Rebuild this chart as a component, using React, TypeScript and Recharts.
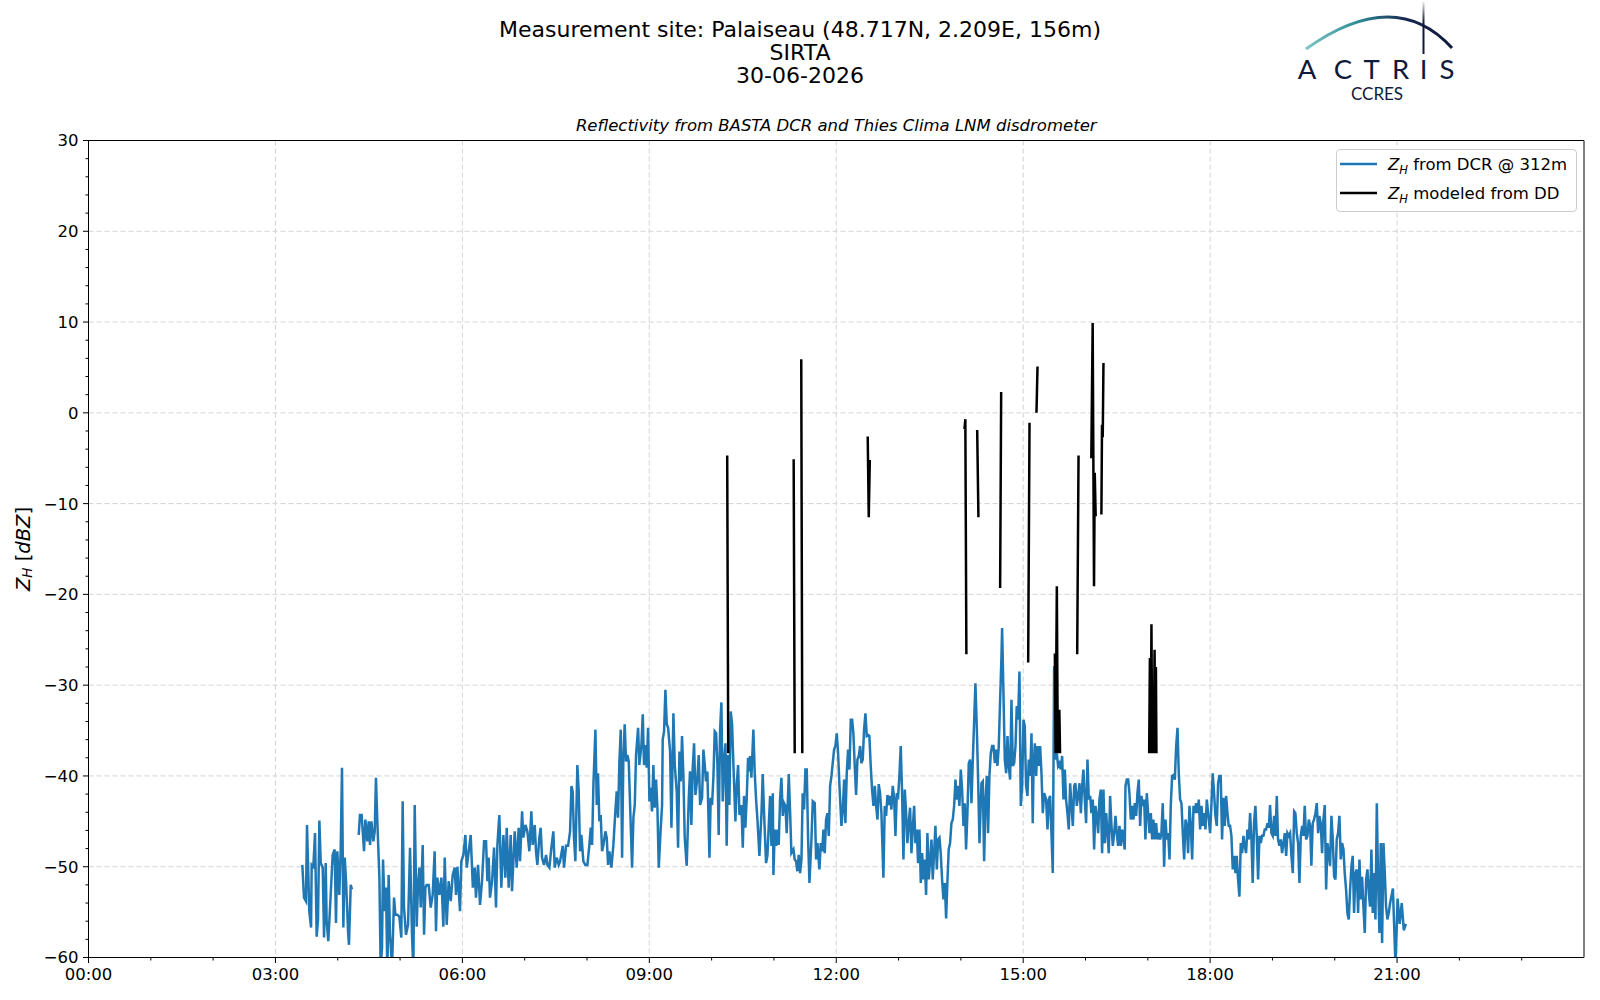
import React from "react";
import {
  CartesianGrid,
  Line,
  LineChart,
  ReferenceArea,
  XAxis,
  YAxis,
} from "recharts";

const FONT = "'DejaVu Sans', sans-serif";
const MAJOR = 5.5;
const MINOR = 3;
const PAD = 4.5;

// BASTA DCR reflectivity @ 312 m, minutes since 00:00
const dcrMinutes = [
  205.9, 207.5, 209.4, 210.4, 212.6, 214.3, 214.9, 216.5, 218.1, 219.7, 221.0, 222.3, 223.6, 225.5, 226.8, 228.4,
  229.3, 230.9, 233.2, 235.1, 237.0, 238.3, 239.6, 241.5, 242.8, 244.1, 245.4, 246.7, 248.0, 249.9, 250.8, 252.5,
  253.7, 257.0,
  260.2, 261.4, 263.0, 265.3, 266.6, 268.5, 269.8, 271.1, 272.4, 274.3, 275.6, 276.8, 278.1, 280.1, 281.3, 282.6,
  283.6, 285.2, 286.5, 287.8, 289.0, 290.3, 292.3, 294.2, 295.5, 297.4, 299.3, 301.2, 302.5, 303.8, 305.7, 307.7,
  309.6, 311.5, 312.8, 314.1, 316.0, 317.3, 318.6, 319.9, 321.8, 323.1, 324.4, 325.6, 327.6, 329.5, 331.4, 333.3,
  334.6, 335.9, 337.8, 339.8, 341.7, 343.0, 344.9, 346.8, 348.8, 350.7, 352.6, 353.9, 355.2, 357.7, 359.0, 361.0,
  362.9, 364.2, 366.1, 368.0, 370.1, 371.9, 373.1, 375.1, 377.0, 378.9, 380.9, 382.8, 384.1, 385.3, 386.6, 388.6,
  390.5, 392.4, 393.7, 395.6, 397.5, 399.5, 401.4, 402.7, 404.6, 406.5, 407.8, 410.4, 412.3, 414.2, 415.5,
  417.5, 418.7, 420.7, 422.6, 424.5, 426.4, 427.7, 429.7, 430.9, 432.2, 434.1, 435.4, 436.7, 438.6, 440.6, 441.9,
  443.8, 445.7, 447.6, 448.9, 450.8, 452.8, 454.1, 456.6, 457.9, 459.8, 461.8, 463.7, 465.0, 466.2, 467.5, 468.8,
  470.7, 472.0, 473.3, 474.6, 476.5, 478.4, 480.4, 482.3, 483.6, 484.9, 486.2, 488.1, 489.4, 490.6, 491.9, 493.2,
  494.5, 495.8, 497.7, 499.0, 500.3, 501.6, 503.5, 505.4, 507.3, 508.6, 509.9, 511.2, 512.5, 513.8, 515.0, 516.3,
  517.6, 518.9, 520.2, 522.1, 523.4, 524.7, 526.0, 527.2, 529.2, 530.4, 532.4, 533.7, 534.9, 536.2, 537.5, 538.8,
  540.1, 541.4, 542.6, 543.9, 545.2, 546.5, 547.8, 549.1, 551.0, 552.3, 552.9, 554.2, 555.5, 556.8, 558.1, 560.0,
  561.3, 563.2, 564.5, 566.4, 567.7, 569.0, 570.3, 571.5, 572.8, 574.1, 576.0, 578.0, 579.2, 580.5, 581.8, 583.1,
  584.4, 586.3, 587.6, 588.9, 590.8, 592.1, 593.4, 594.6, 595.9, 597.9, 599.1, 600.4, 601.7, 603.0, 604.3, 605.6,
  606.8, 608.1, 609.4, 610.7, 612.0, 613.3, 614.5, 615.8, 617.1, 618.4, 619.7, 621.0, 622.9, 624.2, 625.5, 626.8,
  628.7, 630.0, 631.2, 632.5, 633.8, 635.1, 636.4,
  637.0, 638.3, 640.2, 641.5, 642.8, 644.1, 646.0, 648.0, 649.2, 650.5, 652.4, 653.7, 655.0, 656.3, 657.6, 658.9,
  659.5, 660.8, 662.1, 663.4, 664.6, 665.9, 667.2, 668.5, 669.8, 671.1, 672.3, 674.3, 675.6, 676.8, 678.8, 680.0,
  681.3, 682.6, 683.9, 685.2, 686.5, 687.7, 689.0, 690.3, 691.6, 692.9, 694.2, 696.1, 697.4, 699.3, 700.6, 701.9,
  703.8, 705.1, 706.4, 707.7, 708.9, 710.2, 711.5, 712.8, 714.1, 715.4, 716.6, 717.9, 719.2, 720.5, 721.8, 723.1,
  725.0, 726.3, 727.6, 728.8, 730.1, 731.4, 732.7, 734.0, 735.3, 736.5, 737.8, 739.1, 740.4, 741.7, 743.0, 744.2,
  745.5, 746.8, 748.1, 749.4, 750.7, 751.9, 753.2, 754.5, 755.8, 757.1, 758.4, 759.7, 760.9, 762.2, 763.5, 765.4,
  766.7, 768.0, 769.3, 770.6, 771.9, 773.1, 774.4, 775.7, 777.0, 778.3, 779.6, 780.8, 782.1, 783.4, 784.7, 786.0,
  787.3, 788.5, 789.8, 791.1, 792.4, 793.7, 795.0, 796.2, 797.5, 798.8, 800.1, 801.4, 802.7, 804.0, 805.2, 806.5,
  807.8, 809.1, 810.4, 811.7, 812.9, 814.2, 815.5, 816.8, 818.1, 819.4, 820.6, 821.9, 823.2, 824.5, 825.8, 827.1,
  828.3, 829.6, 830.9, 832.2, 833.5, 834.8, 836.1, 837.3, 838.6, 839.9, 841.2, 842.5, 843.8, 845.0, 846.3, 847.6,
  848.9, 850.2, 851.5, 852.7, 854.0, 855.3, 856.6, 857.9,
  859.8, 861.1, 862.4, 863.7, 865.0, 866.2, 867.5, 868.8, 870.1, 871.4, 872.7, 873.9, 875.2, 876.5, 877.8, 879.1,
  879.7, 881.0, 882.3, 883.6, 884.9, 886.1, 887.4, 888.7, 890.0, 891.3, 892.6, 893.8, 895.1, 896.4, 897.7, 899.0,
  900.3, 901.5, 902.8, 904.1, 905.4, 906.7, 908.0, 909.2, 909.9, 911.2, 912.5, 913.7, 915.0, 916.3, 917.6, 918.9,
  920.2, 922.1, 923.4, 924.7, 925.9, 927.2, 928.5, 929.8, 931.1, 932.4, 933.6, 934.9, 936.2, 937.5, 938.8, 940.1,
  941.3, 942.6, 943.9, 945.2, 946.5, 947.8, 949.1, 950.3, 951.6, 952.9, 954.2, 955.5, 956.8, 958.0, 959.3, 960.6,
  961.9, 963.2, 964.5, 965.7, 967.0, 968.3, 969.6, 970.9, 972.2, 973.4, 974.7, 976.0, 977.3, 978.6, 979.9, 981.2,
  982.4, 983.7, 985.0, 986.3, 987.6, 988.9, 990.1, 991.4, 992.7, 994.0, 995.3, 996.6, 997.8, 998.5, 999.8, 1001.1,
  1002.3, 1003.6, 1004.9, 1006.2, 1007.5, 1008.8, 1010.0, 1011.3, 1012.6, 1013.9, 1015.2, 1016.5, 1017.7, 1019.0,
  1020.3, 1021.6, 1022.9, 1024.2, 1025.4, 1026.7, 1028.0, 1029.3, 1030.6, 1031.9, 1033.1, 1034.4, 1035.7, 1037.0,
  1038.3, 1039.6, 1040.9, 1042.1, 1043.4, 1044.7, 1046.0, 1047.3, 1048.6, 1049.8, 1051.1, 1052.4, 1053.7, 1055.0,
  1056.3, 1057.6, 1058.8, 1060.1, 1061.4, 1062.7, 1064.0, 1065.3, 1066.5, 1067.8, 1069.1, 1070.4, 1071.7, 1073.0,
  1074.2, 1075.5, 1076.8, 1078.1,
  1080.0, 1081.2, 1082.5, 1083.8, 1085.1, 1086.4, 1087.7, 1088.9, 1090.2, 1091.5, 1092.8, 1094.1, 1095.4, 1096.7,
  1097.9, 1099.2, 1100.5, 1101.8, 1103.1, 1104.4, 1105.6, 1106.9, 1108.2, 1109.5, 1110.8, 1112.1, 1113.3, 1114.6,
  1115.9, 1117.2, 1118.5, 1119.8, 1121.0, 1122.3, 1123.6, 1124.9, 1126.2, 1127.5, 1128.8, 1130.0, 1131.3, 1132.6,
  1133.9, 1135.2, 1136.5, 1137.7, 1139.0, 1140.3, 1141.6, 1142.9, 1144.2, 1145.4, 1146.7, 1148.0, 1149.3, 1150.6,
  1151.9, 1153.2, 1154.4, 1155.7, 1157.0, 1158.3, 1159.6, 1160.9, 1162.1, 1163.4, 1164.7, 1166.0, 1167.3, 1168.6,
  1169.8, 1171.1, 1172.4, 1173.7, 1175.0, 1176.3, 1177.5, 1178.8, 1180.1, 1181.4, 1182.7, 1184.0, 1185.2, 1186.5,
  1187.8, 1189.1, 1190.4, 1191.7, 1193.0, 1194.2, 1195.5, 1196.8, 1198.1, 1199.4, 1200.7, 1201.9, 1203.2, 1204.5,
  1205.8, 1207.1, 1208.4, 1209.6, 1210.9, 1212.2, 1213.5, 1214.8, 1216.1, 1217.3, 1218.6, 1219.9, 1221.2, 1222.5,
  1223.8, 1225.1, 1226.3, 1227.6, 1228.9, 1230.2, 1231.5, 1232.8, 1234.0, 1235.3, 1236.6, 1237.9, 1239.2, 1240.5,
  1241.7, 1243.0, 1244.3, 1245.6, 1246.9, 1248.2, 1249.4, 1250.7, 1252.0, 1253.3,
  1256.0, 1258.5, 1260.5, 1262.5, 1264.5, 1266.5, 1268.5,
];

const dcrDbz = [
  -49.8, -53.4, -53.8, -45.4, -54.9, -56.7, -49.8, -50.0, -46.3, -57.7, -55.8, -44.9, -49.6, -50.1, -57.8, -49.6,
  -56.0, -58.2, -53.1, -48.7, -48.1, -56.2, -48.3, -53.1, -48.3, -39.1, -56.7, -49.0, -51.6, -57.1, -58.6, -52.0,
  -52.5, null,
  -46.5, -44.3, -44.3, -48.3, -44.8, -47.2, -45.0, -47.6, -45.0, -47.2, -46.1, -40.2, -45.0, -51.2, -61.0, -59.0,
  -49.2, -54.9, -52.3, -62.0, -50.9, -57.5, -61.0, -53.4, -55.3, -55.3, -55.5, -57.8, -42.8, -54.5, -57.5, -56.4,
  -47.9, -57.5, -61.5, -43.2, -56.6, -52.0, -50.1, -54.5, -47.6, -57.5, -52.3, -52.0, -52.0, -54.5, -53.1, -48.3,
  -57.1, -51.2, -53.1, -51.2, -56.6, -49.0, -56.4, -51.6, -53.8, -50.9, -50.1, -53.1, -50.0, -54.9, -49.4, -48.7,
  -46.5, -50.1, -48.3, -46.5, -52.3, -50.1, -53.4, -49.8, -54.2, -51.6, -47.2, -47.2, -51.6, -49.0, -53.4, -51.6,
  -47.9, -54.5, -47.6, -44.3, -52.3, -46.5, -51.2, -45.7, -52.3, -46.5, -52.7, -46.1, -50.1, -45.7, -49.4,
  -43.9, -46.8, -45.4, -46.1, -48.3, -43.9, -47.6, -45.4, -48.3, -49.8, -46.8, -45.7, -49.0, -49.8, -48.7, -49.8,
  -50.1, -47.9, -46.1, -50.1, -49.0, -49.8, -49.4, -47.7, -50.1, -47.7, -47.7, -46.1, -41.1, -41.7, -46.8, -49.4,
  -38.8, -41.7, -48.3, -46.5, -49.4, -49.8, -49.8, -47.6, -45.7, -47.6, -40.9, -34.9, -43.2, -39.7, -45.0, -44.3,
  -48.3, -47.6, -46.1, -46.8, -49.8, -48.3, -50.1, -47.6, -43.9, -41.7, -44.6, -38.4, -34.9, -49.0, -38.0, -34.3,
  -38.4, -37.7, -38.4, -45.4, -50.1, -44.6, -43.2, -37.7, -34.7, -38.8, -36.6, -33.2, -38.8, -36.6, -39.1, -34.7,
  -42.8, -41.3, -43.9, -38.8, -43.5, -40.4, -43.5, -50.1, -45.7, -43.2, -36.0, -35.1, -30.5, -34.3, -34.7, -37.3,
  -45.7, -33.1, -38.8, -41.7, -47.9, -37.3, -40.6, -35.6, -39.9, -46.8, -49.9, -42.4, -39.5, -45.4, -39.1, -36.4,
  -42.1, -40.2, -37.7, -43.2, -42.4, -37.1, -38.8, -40.6, -39.5, -49.0, -42.4, -43.2, -40.2, -35.1, -35.3, -38.8,
  -46.5, -35.1, -31.9, -42.8, -38.4, -36.4, -47.7, -37.7, -43.2, -32.9, -34.3, -38.8, -45.0, -40.9, -38.8, -44.3,
  -43.2, -47.9, -42.2, -45.7, -42.4, -38.0, -39.5,
  -37.8, -40.2, -34.9, -39.7, -42.6, -44.8, -48.8, -44.1, -39.8, -44.1, -49.6, -48.8, -45.5, -42.2, -47.7, -41.9,
  -50.9, -45.9, -47.7, -45.9, -47.6, -42.6, -40.2, -44.4, -43.0, -43.3, -46.3, -39.8, -44.1, -48.5, -48.1, -49.2,
  -49.4, -50.5, -48.7, -50.7, -49.2, -41.9, -43.7, -39.3, -39.3, -47.0, -51.8, -47.0, -42.8, -43.0, -49.2, -47.4,
  -50.3, -47.4, -48.3, -45.9, -48.5, -44.8, -44.1, -46.6, -41.1, -40.0, -38.6, -37.1, -36.7, -35.3, -37.5, -41.1,
  -45.5, -43.7, -40.4, -45.2, -39.7, -37.1, -39.3, -33.8, -33.8, -35.3, -38.9, -42.1, -38.2, -37.8, -36.7, -38.6,
  -38.2, -34.9, -33.1, -35.6, -35.5, -35.6, -38.9, -41.5, -43.3, -41.1, -43.3, -44.8, -40.9, -41.9, -44.1, -51.2,
  -43.3, -44.4, -42.1, -43.2, -42.2, -43.7, -41.1, -42.4, -46.6, -41.9, -42.2, -40.0, -36.7, -41.9, -49.2, -41.5,
  -44.1, -47.4, -45.2, -43.5, -48.5, -45.7, -43.3, -47.4, -45.9, -49.6, -45.9, -51.8, -48.5, -51.4, -49.2, -53.1,
  -46.3, -51.4, -49.2, -47.0, -51.4, -48.5, -45.5, -50.3, -47.0, -46.8, -48.5, -51.4, -53.6, -51.8, -55.7, -51.4,
  -48.1, -47.4, -45.2, -44.8, -43.3, -40.4, -42.6, -41.1, -43.3, -39.3, -41.5, -45.5, -43.0, -48.1, -44.1, -38.6,
  -38.2, -43.0, -38.2, -34.2, -29.8, -34.5, -40.4, -47.4,
  -40.8, -40.6, -49.4, -42.6, -40.0, -46.3, -40.0, -37.5, -36.7, -36.7, -38.6, -37.1, -38.9, -36.7, -31.6, -26.8,
  -23.7, -30.9, -38.2, -39.7, -35.6, -38.9, -40.4, -31.6, -38.9, -38.6, -36.7, -32.3, -33.8, -28.5, -43.3, -41.1,
  -33.8, -34.5, -41.1, -42.2, -38.2, -40.0, -35.3, -45.2, -39.7, -36.4, -40.0, -36.7, -38.9, -36.7, -39.7, -44.1,
  -41.9, -42.6, -45.9, -42.6, -42.2, -46.3, -50.7, -27.9, -38.2, -37.5, -38.9, -38.6, -39.3, -37.8, -42.6, -39.3,
  -42.6, -44.1, -45.9, -40.8, -43.3, -45.5, -41.1, -40.8, -43.3, -42.2, -40.8, -44.1, -41.1, -39.3, -42.6, -45.2,
  -38.2, -42.6, -42.2, -44.1, -42.6, -48.1, -43.3, -44.4, -46.3, -42.6, -41.5, -48.5, -41.5, -47.4, -44.1, -46.3,
  -48.5, -42.2, -45.5, -47.7, -46.3, -44.4, -46.3, -47.7, -45.5, -47.7, -45.9, -47.0, -48.1, -41.1, -40.4, -40.4,
  -41.9, -44.8, -43.3, -44.8, -43.0, -44.4, -41.9, -40.4, -45.5, -42.2, -43.3, -42.6, -47.0, -41.9,
  -44.1, -46.3, -44.1, -47.0, -44.8, -47.0, -45.2, -47.0, -46.3, -47.0, -46.3, -43.0, -50.0, -44.8,
  -47.0, -46.3, -49.2, -43.3, -40.0, -39.9, -40.4, -36.7, -34.7, -39.7, -42.6, -43.0, -46.3, -49.2,
  -44.8, -45.5, -48.5, -43.3, -45.5, -49.2, -43.3, -44.1, -43.0, -44.1, -42.6, -45.9, -43.3, -45.5,
  -44.1, -45.9, -42.6, -44.1,
  -46.3, -43.3, -39.7, -41.9, -44.4, -45.5, -40.8, -40.0, -40.0, -47.0, -42.4, -45.5, -42.2, -44.1,
  -45.5, -45.5, -46.6, -50.3, -48.8, -50.7, -48.8, -51.4, -53.3, -47.4, -48.5, -46.6, -47.7, -48.5,
  -45.9, -47.0, -44.1, -47.0, -51.8, -45.2, -43.3, -46.6, -51.4, -46.6, -47.4, -46.6, -46.6, -45.9,
  -45.9, -45.2, -45.7, -43.2, -46.3, -46.6, -44.4, -46.6, -42.2, -47.0, -47.7, -47.0, -48.5, -47.4,
  -46.3, -48.8, -46.3, -46.6, -46.3, -48.8, -50.7, -43.9, -44.1, -46.3, -47.4, -51.8, -46.6, -45.5,
  -46.6, -43.3, -47.0, -46.6, -44.8, -45.5, -49.9, -45.2, -44.8, -44.1, -43.0, -46.3, -44.4, -45.2,
  -48.5, -44.8, -43.2, -52.5, -47.4, -48.5, -49.9, -44.4, -47.0, -51.1, -51.4, -47.0, -46.3, -44.4,
  -49.2, -47.4, -48.1, -50.7, -52.5, -55.1, -55.8, -52.5, -49.9, -48.8, -55.1, -50.7, -50.3, -55.1,
  -49.2, -53.6, -51.1, -54.4, -57.3, -51.4, -50.3, -52.9, -54.4, -48.1, -55.1, -50.7, -55.8, -43.0,
  -51.4, -57.3, -47.4, -58.4, -47.4, -50.7, -54.4, -55.8, -55.1, -54.0,
  -52.4, -61.0, -53.5, -56.3, -54.0, -57.0, -56.3,
];

// Z_H modelled from the Thies LNM drop size distribution
const ddMinutes = [
  615.0, 616.0, 616.5, 679.0, 680.0, 683.0, 686.3, 687.3, 688.0, 750.3, 751.3, 752.3, 753.0,
  843.5, 844.3, 845.3, 850.0, 855.7, 856.9, 860.0, 877.8, 878.8, 890.0, 904.8, 906.1, 910.0,
  912.8, 913.8, 920.0, 930.5, 931.2, 932.4, 933.3, 934.8, 935.5, 940.0, 952.0, 953.3, 960.0,
  965.6, 966.9, 968.2, 968.9, 969.8, 972.0, 975.3, 975.9, 976.6, 977.3, 990.0,
  1021.3, 1022.0, 1022.8, 1023.5, 1024.2, 1025.0, 1025.8, 1026.5, 1027.2, 1027.8, 1028.3,
];

const ddDbz = [
  -4.7, -37.5, null, -5.1, -37.5, null, 5.9, -37.5, null, -2.6, -11.5, -5.2, null,
  -1.8, -0.7, -26.6, null, -1.9, -11.5, null, -19.3, 2.3, null, -27.5, -1.1, null,
  0.0, 5.1, null, -26.5, -37.5, -19.1, -37.5, -32.7, -37.5, null, -26.6, -4.7, null,
  -5.0, 9.9, -19.1, -6.6, -11.4, null, -11.2, -1.3, -2.7, 5.5, null,
  -37.5, -27.0, -37.5, -23.3, -37.5, -30.0, -37.5, -26.1, -37.5, -28.0, -37.5,
];

const timeTicks = [
  0, 60, 120, 180, 240, 300, 360, 420, 480, 540, 600, 660, 720, 780, 840, 900, 960, 1020, 1080, 1140,
  1200, 1260, 1320, 1380,
];
const timeLabelTicks = [0, 180, 360, 540, 720, 900, 1080, 1260];
const timeLabels = ["00:00", "03:00", "06:00", "09:00", "12:00", "15:00", "18:00", "21:00"];
const dbzTicks = Array.from({ length: 46 }, (_, i) => -60 + 2 * i);
const dbzLabelTicks = [-60, -50, -40, -30, -20, -10, 0, 10, 20, 30];

const dcrRows = dcrMinutes.map((t, i) => ({ t, dbz: dcrDbz[i] }));
const ddRows = ddMinutes.map((t, i) => ({ t, dbz: ddDbz[i] }));

const legendItems = [
  { text: " from DCR @ 312m", color: "#1f77b4" },
  { text: " modeled from DD", color: "#000000" },
];

function TimeTick(props: any) {
  const { x, y, payload } = props;
  const idx = timeLabelTicks.indexOf(payload.value);
  const y0 = y - MAJOR - PAD;
  return (
    <g>
      <line x1={x} x2={x} y1={y0} y2={y0 + (idx >= 0 ? MAJOR : MINOR)} stroke="#000" strokeWidth={1} />
      {idx >= 0 && (
        <text x={x} y={y} dy="0.76em" textAnchor="middle" fontSize={16.5} fontFamily={FONT} fill="#000">
          {timeLabels[idx]}
        </text>
      )}
    </g>
  );
}

function DbzTick(props: any) {
  const { x, y, payload } = props;
  const v = payload.value;
  const major = dbzLabelTicks.includes(v);
  const x0 = x + MAJOR + PAD;
  return (
    <g>
      <line x1={x0} x2={x0 - (major ? MAJOR : MINOR)} y1={y} y2={y} stroke="#000" strokeWidth={1} />
      {major && (
        <text x={x} y={y} dy="0.36em" textAnchor="end" fontSize={16.5} fontFamily={FONT} fill="#000">
          {v < 0 ? `\u2212${Math.abs(v)}` : `${v}`}
        </text>
      )}
    </g>
  );
}

function DbzLabel(props: any) {
  const vb = props.viewBox || { x: 28.5, y: 140.5, width: 60, height: 817 };
  const cx = vb.x - 6;
  const cy = vb.y + vb.height / 2;
  return (
    <text
      x={cx}
      y={cy}
      transform={`rotate(-90 ${cx} ${cy})`}
      textAnchor="middle"
      dominantBaseline="central"
      fontSize={19.5}
      fontFamily={FONT}
      fill="#000"
    >
      <tspan fontStyle="italic">Z</tspan>
      <tspan fontStyle="italic" fontSize={13.5} dy={4}>H</tspan>
      <tspan dy={-4}> [</tspan>
      <tspan fontStyle="italic">dBZ</tspan>
      <tspan>]</tspan>
    </text>
  );
}

function LegendBox() {
  return (
    <div
      style={{
        position: "absolute",
        left: 1336,
        top: 149,
        width: 239,
        height: 61,
        border: "1px solid #cccccc",
        borderRadius: 4,
        background: "rgba(255,255,255,0.8)",
        fontFamily: FONT,
        fontSize: 16.5,
        color: "#000",
      }}
    >
      {legendItems.map((item, i) => (
        <div
          key={item.text}
          style={{
            position: "absolute",
            left: 3,
            top: 2 + i * 29,
            height: 24,
            display: "flex",
            alignItems: "center",
            whiteSpace: "nowrap",
          }}
        >
          <svg width={37} height={6}>
            <line x1={0} x2={37} y1={3} y2={3} stroke={item.color} strokeWidth={2.5} />
          </svg>
          <span style={{ marginLeft: 11 }}>
            <span style={{ fontStyle: "italic" }}>Z</span>
            <span style={{ fontStyle: "italic", fontSize: 11.5, position: "relative", top: 4 }}>H</span>
            {item.text}
          </span>
        </div>
      ))}
    </div>
  );
}

function ActrisLogo() {
  return (
    <svg width={1600} height={110} style={{ position: "absolute", left: 0, top: 0, pointerEvents: "none" }}>
      <defs>
        <linearGradient id="actrisArc" x1="1306" y1="0" x2="1452" y2="0" gradientUnits="userSpaceOnUse">
          <stop offset="0%" stopColor="#7cc6c6" />
          <stop offset="35%" stopColor="#2f8d98" />
          <stop offset="70%" stopColor="#16254f" />
          <stop offset="100%" stopColor="#0f1a3c" />
        </linearGradient>
        <linearGradient id="actrisMast" x1="0" y1="2" x2="0" y2="52" gradientUnits="userSpaceOnUse">
          <stop offset="0%" stopColor="#0f1a3c" stopOpacity={0.1} />
          <stop offset="40%" stopColor="#0f1a3c" />
        </linearGradient>
      </defs>
      <path d="M1306,49 Q1395,-14.5 1452,48" fill="none" stroke="url(#actrisArc)" strokeWidth={3} />
      <line x1={1423.5} x2={1423.5} y1={2} y2={54} stroke="url(#actrisMast)" strokeWidth={2} />
      <text
        x="1307 1343 1371.5 1400.5 1423.5 1447"
        y={79}
        textAnchor="middle"
        fontFamily="Lato, 'Open Sans', sans-serif"
        fontSize={27.5}
        fill="#0f1a3c"
      >
        ACTRIS
      </text>
      <text x={1377} y={99.5} textAnchor="middle" fontFamily="Lato, 'Open Sans', sans-serif" fontSize={17} fill="#0f1a3c">
        CCRES
      </text>
    </svg>
  );
}

export default function App() {
  return (
    <div style={{ position: "absolute", left: 0, top: 0, width: 1600, height: 1000, background: "#fff", fontFamily: FONT }}>
      <div
        style={{
          position: "absolute",
          left: 0,
          top: 18,
          width: 1600,
          textAlign: "center",
          fontSize: 22,
          lineHeight: "23px",
          color: "#000",
        }}
      >
        <div>Measurement site: Palaiseau (48.717N, 2.209E, 156m)</div>
        <div>SIRTA</div>
        <div>30-06-2026</div>
      </div>
      <div
        style={{
          position: "absolute",
          left: 88.5,
          top: 115,
          width: 1495.5,
          textAlign: "center",
          fontSize: 16.5,
          lineHeight: "21px",
          fontStyle: "italic",
          color: "#000",
        }}
      >
        Reflectivity from BASTA DCR and Thies Clima LNM disdrometer
      </div>
      <ActrisLogo />
      <div style={{ position: "absolute", left: 0, top: 0 }}>
        <LineChart width={1600} height={1000} margin={{ top: 140.5, right: 16, bottom: 2.5, left: 28.5 }}>
          <CartesianGrid
            stroke="#d3d3d3"
            strokeDasharray="5 3"
            horizontalValues={dbzLabelTicks}
            verticalValues={timeLabelTicks}
          />
          <XAxis
            type="number"
            dataKey="t"
            domain={[0, 1440]}
            allowDataOverflow
            ticks={timeTicks}
            interval={0}
            tick={<TimeTick />}
            tickLine={false}
            tickSize={MAJOR}
            tickMargin={PAD}
            axisLine={{ stroke: "#000" }}
            height={40}
          />
          <YAxis
            type="number"
            domain={[-60, 30]}
            allowDataOverflow
            ticks={dbzTicks}
            interval={0}
            tick={<DbzTick />}
            tickLine={false}
            tickSize={MAJOR}
            tickMargin={PAD}
            axisLine={{ stroke: "#000" }}
            width={60}
            label={<DbzLabel />}
          />
          <ReferenceArea x1={0} x2={1440} y1={-60} y2={30} fill="none" stroke="#000" strokeWidth={1} ifOverflow="visible" />
          <Line
            data={dcrRows}
            dataKey="dbz"
            type="linear"
            stroke="#1f77b4"
            strokeWidth={2.5}
            dot={false}
            activeDot={false}
            connectNulls={false}
            isAnimationActive={false}
          />
          <Line
            data={ddRows}
            dataKey="dbz"
            type="linear"
            stroke="#000000"
            strokeWidth={2.5}
            dot={false}
            activeDot={false}
            connectNulls={false}
            isAnimationActive={false}
          />
        </LineChart>
      </div>
      <LegendBox />
    </div>
  );
}
